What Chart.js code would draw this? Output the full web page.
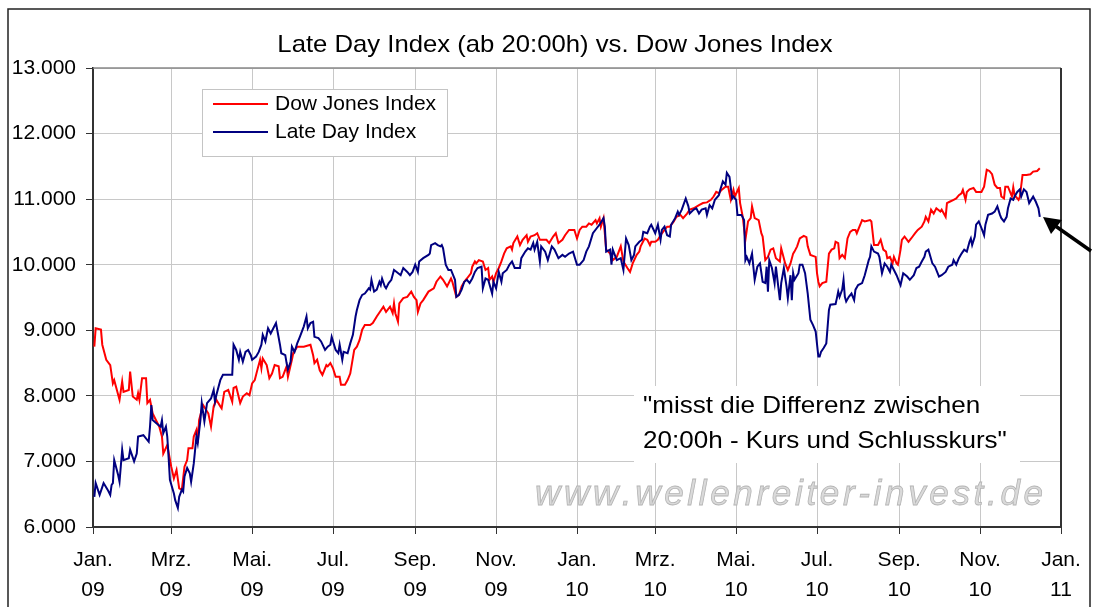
<!DOCTYPE html>
<html>
<head>
<meta charset="utf-8">
<script src="https://cdn.jsdelivr.net/npm/chart.js@4"></script>
<style>
  html, body { margin: 0; padding: 0; background: #fff; }
  canvas { display: block; }
</style>
</head>
<body>
<canvas id="chart" width="1094" height="607"></canvas>
<script>
const FONT = '"Liberation Sans", Arial, sans-serif';

const titleText = 'Late Day Index (ab 20:00h) vs. Dow Jones Index';
const seriesNames = ['Dow Jones Index', 'Late Day Index'];
const noteLines = ['"misst die Differenz zwischen', '20:00h - Kurs und Schlusskurs"'];
const watermark = 'www.wellenreiter-invest.de';

// x axis: days since 1 Jan 2009, labelled every two months
const tickDays = [0, 59, 120, 181, 243, 304, 365, 424, 485, 546, 608, 669, 730];
const tickMonths = ['Jan.', 'Mrz.', 'Mai.', 'Jul.', 'Sep.', 'Nov.', 'Jan.', 'Mrz.', 'Mai.', 'Jul.', 'Sep.', 'Nov.', 'Jan.'];
const tickYears = ['09', '09', '09', '09', '09', '09', '10', '10', '10', '10', '10', '10', '11'];

// Dow Jones Index (red)
const dowDays = [
  1,2,6,7,10,13,15,16,18,20,22,23,27,28,30,33,34,35,37,40,41,43,45,48,50,52,53,56,59,61,
  63,65,67,69,71,72,75,76,78,79,80,83,87,89,91,93,96,97,99,102,105,106,108,111,113,116,118,120,122,124,
  126,127,128,131,133,135,137,140,141,
  143,146,147,150,151,154,159,164,166,167,169,171,173,176,177,179,181,183,186,187,190,192,194,197,199,201,203,205,209,211,
  214,219,221,224,226,227,228,230,231,234,237,240,242,244,245,247,249,253,257,259,262,264,267,270,271,274,276,
  278,280,282,285,286,288,289,291,294,296,298,299,301,302,304,306,308,310,312,315,316,317,320,322,324,327,328,330,333,335,
  337,342,344,347,349,351,354,356,359,363,365,367,369,372,374,376,379,380,382,383,385,387,390,392,395,398,400,403,405,407,
  410,412,
  413,416,418,420,421,424,426,428,431,433,435,438,440,443,445,448,450,453,457,460,463,466,468,470,472,474,477,479,481,483,
  484,487,488,490,492,494,496,497,499,502,504,505,507,509,511,513,515,518,519,522,524,526,528,529,531,533,536,538,539,541,
  545,546,547,548,
  550,553,555,557,559,560,562,563,565,567,569,571,573,575,576,578,580,582,586,587,589,592,594,596,598,599,601,603,604,606,
  607,609,610,612,615,617,620,622,625,627,628,630,632,634,636,639,640,643,644,646,649,651,653,655,656,658,659,661,664,666,
  670,672,674,676,678,680,682,684,685,687,688,690,693,694,695,698,699,701,704,707,709,712,714
];
const dowValues = [
  8750,9030,9010,8780,8550,8470,8190,8240,8090,7940,8220,8060,8090,8370,7990,7940,8040,7940,8270,8270,
  7890,7940,7730,7610,7530,7380,7120,7250,6920,6740,6870,6590,6570,6920,7020,7200,7200,7380,7480,7280,
  7630,7860,7730,7530,7840,7940,7840,7810,8060,8090,7910,8120,8140,7890,7990,8040,8010,8190,8240,8400,
  8550,8420,8570,8470,8270,8340,8470,8450,8270,
  8290,8450,8290,8550,8650,8750,8750,8780,8620,8500,8550,8390,8320,8470,8450,8500,8420,8290,8290,8170,
  8170,8240,8340,8700,8750,8850,9010,9080,9080,9110,9210,9360,9280,9360,9260,9410,9260,9130,9410,9490,
  9510,9590,9510,9460,9280,9410,9460,9590,9640,9740,9820,9770,9670,9790,9740,9510,9540,
  9670,9740,9790,9870,9970,10050,10020,10070,10050,9920,9950,9770,9820,9740,9870,9950,10050,10170,10250,10280,
  10230,10330,10430,10300,10380,10450,10350,10430,10450,10480,10380,10380,10330,10430,10480,10330,10380,10450,10530,10530,
  10400,10530,10580,10580,10630,10610,10680,10630,10710,10580,10710,10230,10170,10070,10120,10280,10050,9950,9890,10020,
  10150,10200,
  10280,10400,10380,10300,10350,10350,10380,10450,10530,10580,10580,10660,10730,10760,10710,10780,10840,10860,10910,10940,
  10950,10990,11040,11110,11090,11140,11190,11190,10990,11140,11040,11170,10940,10730,10380,10660,10710,10890,10710,10680,
  10480,10430,10070,10120,10230,10250,10100,10050,10250,10020,9920,10020,10170,10200,10280,10400,10440,10420,10280,10150,
  10120,9870,9740,9670,
  9720,9740,10170,10230,10250,10350,10330,10100,10150,10100,10400,10500,10530,10530,10480,10580,10680,10660,10680,10660,
  10300,10300,10380,10230,10200,10100,10120,10020,10120,10020,10000,10230,10380,10430,10350,10400,10480,10530,10580,10660,
  10730,10660,10840,10780,10860,10810,10840,10730,10940,10960,10990,11010,11060,11090,11140,10990,11110,11150,11170,11110,
  11110,11190,11450,11430,11380,11220,11170,11170,11040,11010,11190,11190,11040,11180,11060,10990,11040,11370,11370,11380,
  11420,11430,11470
];

// Late Day Index (blue)
const ldiDays = [
  1,2,5,8,11,13,14,15,16,19,20,22,23,27,28,31,33,34,38,42,43,44,45,48,51,52,53,55,56,57,
  58,61,62,64,65,67,68,69,71,73,74,76,78,79,81,82,84,86,89,91,92,93,96,98,105,106,108,110,111,113,
  115,117,119,120,123,125,127,128,130,132,134,136,138,141,
  142,145,146,147,149,150,152,154,156,159,161,162,164,166,167,170,172,175,177,179,180,183,185,186,188,189,192,194,196,198,
  199,201,203,205,208,209,210,212,214,216,217,218,220,221,223,225,227,229,232,234,237,239,241,243,245,246,249,253,254,255,
  258,260,262,263,264,266,268,270,273,274,276,
  278,280,282,284,286,288,290,293,294,296,298,301,302,304,306,308,309,312,314,316,318,322,323,326,328,330,332,333,335,337,
  338,341,343,346,348,351,354,356,359,362,365,367,370,372,374,377,380,382,385,386,387,390,391,392,395,398,400,402,404,406,
  408,409,412,
  414,415,418,420,421,424,426,428,429,431,433,435,436,439,441,442,444,447,449,450,453,455,457,459,462,463,465,467,469,472,
  473,475,477,478,480,482,483,485,486,489,491,492,493,495,497,499,501,503,505,507,508,509,510,512,514,515,518,519,521,523,
  524,526,527,528,529,532,533,535,537,539,541,543,545,547,548,
  549,551,553,555,556,560,561,562,563,565,566,567,568,570,572,574,575,577,580,582,585,586,587,589,592,593,595,597,599,601,
  602,604,606,609,611,614,616,619,621,623,625,627,628,630,633,635,638,640,643,645,648,649,651,653,655,657,659,661,662,663,
  665,666,668,670,672,673,675,678,680,682,684,685,687,689,690,692,694,695,697,699,700,702,704,706,709,711,713,714
];
const ldiValues = [
  6460,6670,6490,6670,6570,6490,6640,6670,7020,6790,6690,7180,7020,7050,7180,7000,7120,7380,7400,7300,
  7530,7860,7630,7580,7530,7630,7430,7530,7380,7070,6720,6510,6410,6290,6460,6570,6540,6770,6900,6820,
  6690,6970,7380,7280,7630,7890,7610,7890,7960,8090,7910,8010,8240,8320,8320,8780,8700,8550,8670,8520,
  8670,8700,8620,8550,8600,8670,8780,8930,8830,9030,8950,9030,9110,8780,
  8650,8620,8500,8400,8520,8750,8670,8800,8900,9060,9210,9030,9110,9130,8900,8880,8830,8700,8750,8780,
  8900,8700,8650,8780,8550,8670,8650,8800,8930,9210,9310,9460,9540,9560,9640,9620,9770,9590,9620,9740,
  9690,9790,9670,9640,9720,9770,9920,9890,9840,9950,9890,9840,9890,10000,9890,10050,10100,10150,10170,10300,
  10330,10300,10280,10300,10250,10000,9920,9920,9770,9510,9540,
  9620,9740,9770,9720,9790,9890,9950,9970,9640,9790,9770,9560,9740,9640,9890,9740,9870,9920,10000,10050,
  9950,9950,10100,10200,10250,10230,10330,10230,10350,10050,10280,10200,10070,10280,10230,10100,10150,10120,10170,10200,
  10000,10000,10070,10200,10280,10480,10560,10610,10710,10580,10200,10230,10000,10230,10070,10100,9920,10400,10300,10070,
  10150,10280,10350,
  10380,10500,10480,10580,10610,10480,10610,10380,10530,10580,10450,10430,10610,10710,10810,10760,10840,11010,10890,10780,
  10840,10860,10780,10840,10860,10760,10910,10860,10990,11060,11140,11270,11220,11400,11340,11010,11040,10990,10760,10760,
  10680,10070,10120,10020,10170,9770,9970,10020,9740,9720,9970,9590,10070,9950,9720,9970,9460,9720,9950,9670,
  9490,9840,9460,9870,9770,9870,10000,10000,9870,9560,9160,9080,8980,8600,8600,
  8670,8730,8800,9310,9390,9400,9490,9590,9510,9620,9770,9510,9440,9510,9560,9460,9620,9690,9720,9840,
  10070,10120,10280,10200,10170,10120,9870,10020,9970,9890,10000,9920,9840,9690,9870,9820,9770,9840,9950,9970,
  10050,10120,10200,10230,10020,9970,9820,9840,9890,9970,10000,10070,10000,10100,10170,10230,10200,10350,10400,10300,
  10430,10610,10660,10560,10450,10610,10760,10780,10810,10890,10760,10710,10660,10730,10860,11010,10990,11040,11110,11150,
  11040,11150,11110,10940,11040,10960,10860,10730
];

const RED = '#ff0000';
const BLUE = '#000080';

function points(days, values) {
  return days.map((d, i) => ({ x: d, y: values[i] }));
}

// text drawn slightly widened, like the original's stretched labels
function wideText(c, text, x, y, sx, align) {
  c.save();
  c.translate(x, y);
  c.scale(sx, 1);
  c.textAlign = align;
  c.fillText(text, 0, 0);
  c.restore();
}

const decor = {
  id: 'decor',
  beforeDraw(chart) {
    const c = chart.ctx;
    c.save();
    c.fillStyle = '#fff';
    c.fillRect(0, 0, chart.width, chart.height);
    c.strokeStyle = '#222';
    c.lineWidth = 1.5;
    c.strokeRect(8, 9, 1082, 640);
    c.fillStyle = '#000';
    c.font = '24px ' + FONT;
    c.textBaseline = 'alphabetic';
    wideText(c, titleText, 555, 52, 1.07, 'center');
    c.restore();
  },
  beforeDatasetsDraw(chart) {
    const c = chart.ctx;
    const a = chart.chartArea;
    c.save();
    // white box behind the note
    c.fillStyle = '#fff';
    c.fillRect(634, 386, 386, 77);
    // watermark, letter by letter with a little extra spacing
    c.font = 'italic 35px ' + FONT;
    c.textAlign = 'left';
    c.textBaseline = 'alphabetic';
    const chars = watermark.split('');
    const widths = chars.map((ch) => c.measureText(ch).width);
    const total = widths.reduce((s, w) => s + w, 0);
    const gap = (508 - total) / (chars.length - 1);
    c.fillStyle = '#dadada';
    c.strokeStyle = '#b4b4b4';
    c.lineWidth = 0.8;
    let x = 535;
    chars.forEach((ch, i) => {
      c.fillText(ch, x, 505);
      c.strokeText(ch, x, 505);
      x += widths[i] + gap;
    });
    // plot frame top and right
    c.strokeStyle = '#888';
    c.lineWidth = 1.5;
    c.beginPath();
    c.moveTo(a.left, a.top);
    c.lineTo(a.right, a.top);
    c.stroke();
    c.strokeStyle = '#333';
    c.lineWidth = 2;
    c.beginPath();
    c.moveTo(a.right, a.top);
    c.lineTo(a.right, a.bottom);
    c.stroke();
    c.restore();
  },
  afterDatasetsDraw(chart) {
    const c = chart.ctx;
    c.save();
    // legend
    c.fillStyle = '#fff';
    c.fillRect(202, 89, 245, 67);
    c.strokeStyle = '#c4c4c4';
    c.lineWidth = 1;
    c.strokeRect(202.5, 89.5, 245, 67);
    [RED, BLUE].forEach((col, i) => {
      const y = 104 + i * 28;
      c.strokeStyle = col;
      c.lineWidth = 2;
      c.beginPath();
      c.moveTo(213, y);
      c.lineTo(268, y);
      c.stroke();
      c.fillStyle = '#000';
      c.font = '21px ' + FONT;
      c.textAlign = 'left';
      c.textBaseline = 'middle';
      c.fillText(seriesNames[i], 275, y);
    });
    // note
    c.font = '24px ' + FONT;
    c.textBaseline = 'alphabetic';
    wideText(c, noteLines[0], 643, 413, 1.085, 'left');
    wideText(c, noteLines[1], 643, 448, 1.085, 'left');
    // arrow to the last value
    c.strokeStyle = '#000';
    c.fillStyle = '#000';
    c.lineWidth = 3.5;
    c.beginPath();
    c.moveTo(1091, 251);
    c.lineTo(1054, 225);
    c.stroke();
    c.beginPath();
    c.moveTo(1043, 217);
    c.lineTo(1062, 220);
    c.lineTo(1051, 234);
    c.closePath();
    c.fill();
    c.restore();
  }
};

new Chart(document.getElementById('chart'), {
  type: 'line',
  data: {
    datasets: [
      {
        label: seriesNames[0],
        data: points(dowDays, dowValues),
        borderColor: RED,
        borderWidth: 2,
        pointRadius: 0,
        tension: 0,
        order: 1
      },
      {
        label: seriesNames[1],
        data: points(ldiDays, ldiValues),
        borderColor: BLUE,
        borderWidth: 2,
        pointRadius: 0,
        tension: 0,
        order: 0
      }
    ]
  },
  options: {
    responsive: false,
    animation: false,
    devicePixelRatio: 1,
    layout: { padding: { top: 68, right: 33, left: 0, bottom: 0 } },
    plugins: {
      legend: { display: false },
      title: { display: false },
      tooltip: { enabled: false }
    },
    scales: {
      x: {
        type: 'linear',
        min: 0,
        max: 730,
        afterBuildTicks: (s) => { s.ticks = tickDays.map((v) => ({ value: v })); },
        afterFit: (s) => { s.height = 80; },
        ticks: {
          autoSkip: false,
          maxRotation: 0,
          padding: 12,
          color: '#000',
          font: { family: FONT, size: 21, lineHeight: 1.4 },
          callback: (v, i) => [tickMonths[i], tickYears[i]]
        },
        grid: { color: '#c8c8c8', lineWidth: 1, tickColor: '#333', tickLength: 7 },
        border: { color: '#333', width: 2 }
      },
      y: {
        min: 6000,
        max: 13000,
        afterFit: (s) => { s.width = 93; },
        ticks: {
          stepSize: 1000,
          padding: 10,
          color: '#000',
          font: { family: FONT, size: 21 },
          callback: (v) => (v / 1000) + '.000'
        },
        grid: { color: '#c8c8c8', lineWidth: 1, tickColor: '#333', tickLength: 7 },
        border: { color: '#333', width: 2 }
      }
    }
  },
  plugins: [decor]
});
</script>
</body>
</html>
